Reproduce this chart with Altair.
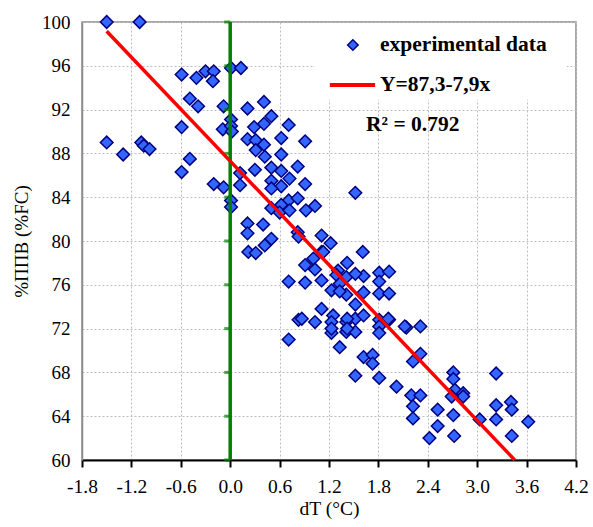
import altair as alt
import pandas as pd

# ---- data ----
dT = [-1.50, -1.10, -1.50, -1.30, -1.08, -1.05, -0.98,
      -0.59, -0.41, -0.30, -0.20, -0.21, -0.49, -0.39, -0.08, -0.59, -0.09, -0.49, -0.59, -0.20, -0.08,
      0.01, 0.13, 0.01, 0.01, 0.02, 0.01, 0.01,
      0.21, 0.29, 0.21, 0.12, 0.12, 0.30, 0.31, 0.31, 0.21, 0.21, 0.22, 0.31,
      0.41, 0.41, 0.41, 0.42, 0.50, 0.71, 0.62, 0.91, 0.62, 0.50, 0.62, 0.82, 0.50, 0.62, 0.72, 0.91, 0.50,
      0.71, 0.82, 0.62, 0.50, 0.60, 0.72, 0.92, 1.03,
      0.40, 0.42, 0.50, 0.82, 0.83, 1.11, 1.22, 1.11, 1.61, 1.01, 0.91, 1.03, 1.42, 1.31,
      0.71, 0.91, 1.11, 1.29, 1.33, 1.41, 1.62, 1.81, 1.93, 1.81,
      1.23, 1.41, 1.62, 1.81, 1.93, 1.33, 1.52, 1.52,
      1.11, 1.25, 1.23, 1.41, 1.52, 1.62, 1.41, 1.52, 1.81, 1.93, 1.81, 1.81, 2.14, 2.31,
      0.83, 1.03, 1.23, 0.71, 1.33, 1.62, 1.73, 1.73, 2.22, 2.31,
      1.52, 1.81, 2.02, 2.20, 2.31, 2.71, 2.71, 2.73, 2.83, 2.83, 2.69,
      2.22, 2.22, 2.52, 2.52, 2.42, 2.71, 2.72, 3.03, 3.23, 3.23, 3.23, 3.41, 3.42, 3.42, 3.62, 1.92, 2.12,
      0.87, 1.42, 1.23, 1.42, 1.13, 1.52]
fc = [100.0, 100.0, 89.0, 87.9, 89.0, 88.7, 88.4,
      95.2, 94.9, 95.5, 95.5, 94.6, 93.0, 92.3, 92.3, 90.4, 90.2, 87.5, 86.3, 85.2, 84.9,
      95.8, 95.8, 91.1, 90.5, 90.0, 83.7, 83.1,
      92.1, 90.4, 89.3, 86.2, 85.1, 86.5, 89.2, 88.3, 81.6, 80.7, 79.0, 78.9,
      92.7, 90.7, 88.8, 87.7, 91.4, 90.6, 89.4, 89.1, 87.9, 86.7, 86.4, 86.8, 85.5, 85.0, 85.7, 85.2, 84.8,
      83.7, 83.9, 83.3, 83.0, 82.6, 82.8, 82.8, 83.2,
      81.5, 79.6, 80.2, 80.8, 80.4, 80.5, 79.8, 79.0, 79.0, 78.4, 77.8, 77.4, 78.0, 77.3,
      76.3, 76.2, 76.4, 76.9, 76.1, 76.7, 76.8, 77.1, 77.2, 76.3,
      75.5, 75.1, 75.3, 75.2, 75.2, 75.4, 74.2, 84.4,
      73.8, 73.2, 72.6, 72.6, 72.9, 73.2, 71.7, 71.7, 72.8, 72.8, 72.2, 71.6, 72.1, 72.2,
      72.8, 72.6, 71.6, 71.0, 70.3, 69.4, 69.6, 68.8, 69.0, 69.7,
      67.7, 67.5, 66.7, 65.9, 65.9, 68.0, 67.4, 66.4, 66.1, 65.8, 65.8,
      64.9, 63.8, 64.6, 63.1, 62.0, 64.1, 62.2, 63.7, 67.9, 65.0, 63.7, 65.3, 64.6, 62.2, 63.5, 72.9, 72.2,
      72.9, 72.9, 72.0, 72.0, 79.0, 77.0]
assert len(dT) == len(fc)

fit_intercept = 87.3
fit_slope = -7.9
fit_x_range = [-1.5, 3.456]

x_ticks = [-1.8, -1.2, -0.6, 0.0, 0.6, 1.2, 1.8, 2.4, 3.0, 3.6, 4.2]
y_ticks = [60, 64, 68, 72, 76, 80, 84, 88, 92, 96, 100]

legend_label_points = "experimental data"
legend_label_line = "Y=87,3-7,9x"
r2_label = "R² = 0.792"

FONT = "Liberation Serif"

pts = pd.DataFrame({"dT": dT, "fc": fc})
fit = pd.DataFrame({"dT": fit_x_range,
                    "fc": [fit_intercept + fit_slope * v for v in fit_x_range]})
zero = pd.DataFrame({"dT": [0.0, 0.0], "fc": [60, 100]})
zero_ticks = pd.DataFrame({"dT": [0.0] * len(y_ticks), "fc": y_ticks})

xs = alt.Scale(domain=[-1.8, 4.2], nice=False, zero=False)
ys = alt.Scale(domain=[60, 100], nice=False, zero=False)

xaxis = alt.Axis(values=x_ticks, title="dT (°C)",
                 labelExpr="replace(format(datum.value, '.1f'), '\u2212', '-')",
                 grid=True, gridColor="#bdbdbd", gridDash=[2, 2], gridWidth=1,
                 domainColor="black", domainWidth=2, tickColor="black", tickWidth=2, tickSize=7,
                 labelFont=FONT, labelFontSize=19.5, labelColor="black", labelPadding=10,
                 titleFont=FONT, titleFontSize=19.5, titleFontWeight="normal", titleColor="black",
                 titlePadding=4, labelFlush=False)
yaxis = alt.Axis(values=y_ticks, title="%ППВ (%FC)",
                 grid=True, gridColor="#bdbdbd", gridDash=[2, 2], gridWidth=1,
                 domainColor="#8c8c8c", domainWidth=1.5, ticks=False,
                 labelFont=FONT, labelFontSize=19, labelColor="black", labelPadding=12,
                 titleFont=FONT, titleFontSize=19, titleFontWeight="normal", titleColor="black",
                 titlePadding=10, labelFlush=False)

base_x = alt.X("dT:Q", scale=xs, axis=xaxis)
base_y = alt.Y("fc:Q", scale=ys, axis=yaxis)

zero_line = alt.Chart(zero).mark_line(color="#008000", strokeWidth=3.5).encode(
    x=alt.X("dT:Q", scale=xs), y=alt.Y("fc:Q", scale=ys))
zero_tk = alt.Chart(zero_ticks).mark_tick(color="#008000", orient="horizontal",
                                           size=6, thickness=3, xOffset=-3).encode(
    x=alt.X("dT:Q", scale=xs), y=alt.Y("fc:Q", scale=ys))

points = alt.Chart(pts).mark_point(shape="diamond", filled=True, fill="#3366ff",
                                    stroke="#000080", strokeWidth=1.5, size=160, opacity=1).encode(
    x=base_x, y=base_y)

fit_line = alt.Chart(fit).mark_line(color="#ff0000", strokeWidth=3.5).encode(
    x=alt.X("dT:Q", scale=xs), y=alt.Y("fc:Q", scale=ys))

# legend box
box = alt.Chart(pd.DataFrame({"x": [1.03], "x2": [4.09], "y": [92.9], "y2": [99.9]})).mark_rect(
    fill="white").encode(
    x=alt.X("x:Q", scale=xs), x2="x2:Q", y=alt.Y("y:Q", scale=ys), y2="y2:Q")

leg_pt = alt.Chart(pd.DataFrame({"x": [1.49], "y": [97.9]})).mark_point(
    shape="diamond", filled=True, fill="#3366ff", stroke="#000080", strokeWidth=1.5,
    size=110, opacity=1).encode(x=alt.X("x:Q", scale=xs), y=alt.Y("y:Q", scale=ys))
leg_line = alt.Chart(pd.DataFrame({"x": [1.21, 1.76], "y": [94.25, 94.25]})).mark_line(
    color="#ff0000", strokeWidth=4).encode(x=alt.X("x:Q", scale=xs), y=alt.Y("y:Q", scale=ys))
leg_text = alt.Chart(pd.DataFrame({"x": [1.82, 1.82, 1.65],
                                   "y": [97.9, 94.25, 90.6],
                                   "t": [legend_label_points, legend_label_line, r2_label]})).mark_text(
    align="left", baseline="middle", font=FONT, fontSize=21.5, fontWeight="bold", color="black").encode(
    x=alt.X("x:Q", scale=xs), y=alt.Y("y:Q", scale=ys), text="t:N")

chart = alt.layer(points, zero_line, zero_tk, fit_line, box, leg_pt, leg_line, leg_text).properties(
    width=494, height=438,
    padding={"left": 82, "top": 22, "right": 17, "bottom": 67},
    autosize=alt.AutoSizeParams(type="none"),
    background="white",
).configure_view(stroke="#8c8c8c", strokeWidth=1.5)

chart.save("out.html", embed_options={"renderer": "svg", "actions": False})
